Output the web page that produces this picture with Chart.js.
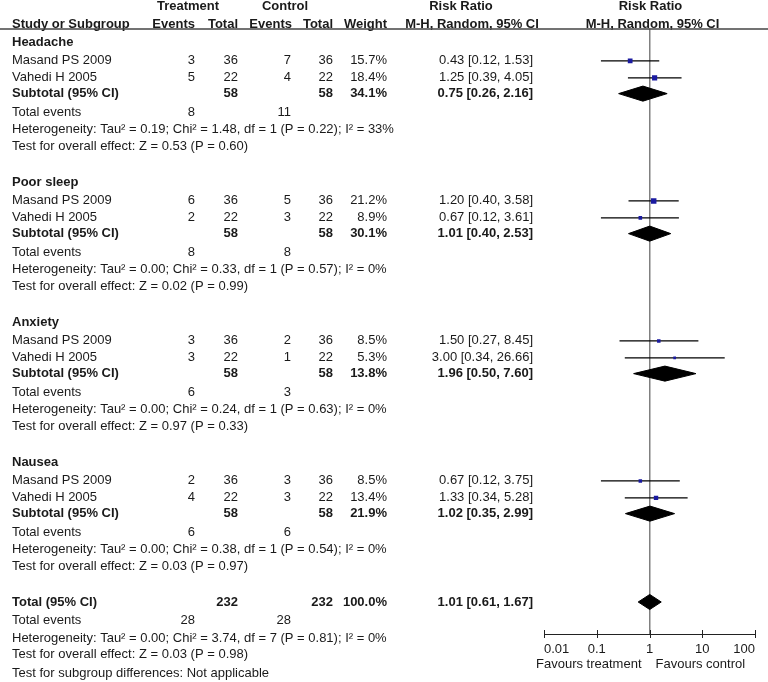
<!DOCTYPE html>
<html>
<head>
<meta charset="utf-8">
<script src="https://cdn.jsdelivr.net/npm/chart.js@4.4.0/dist/chart.umd.min.js"></script>
<style>
  html, body { margin: 0; padding: 0; background: #fff; }
  #wrap { width: 768px; height: 682px; }
</style>
</head>
<body>
<div id="wrap"><canvas id="forest" width="768" height="682"></canvas></div>
<script>
// per-study values, one inner array per subgroup
const subgroups = ["Headache", "Poor sleep", "Anxiety", "Nausea"];
const studies = ["Masand PS 2009", "Vahedi H 2005"];
const treatEvents = [[3, 5], [6, 2], [3, 3], [2, 4]];
const treatTotal = [[36, 22], [36, 22], [36, 22], [36, 22]];
const ctrlEvents = [[7, 4], [5, 3], [2, 1], [3, 3]];
const ctrlTotal = [[36, 22], [36, 22], [36, 22], [36, 22]];
const weights = [[15.7, 18.4], [21.2, 8.9], [8.5, 5.3], [8.5, 13.4]];
const ratios = [[0.43, 1.25], [1.20, 0.67], [1.50, 3.00], [0.67, 1.33]];
const lower = [[0.12, 0.39], [0.40, 0.12], [0.27, 0.34], [0.12, 0.34]];
const upper = [[1.53, 4.05], [3.58, 3.61], [8.45, 26.66], [3.75, 5.28]];

// subgroup summaries
const subRatio = [0.75, 1.01, 1.96, 1.02];
const subLower = [0.26, 0.40, 0.50, 0.35];
const subUpper = [2.16, 2.53, 7.60, 2.99];
const subWeight = [34.1, 30.1, 13.8, 21.9];
const subTreatTotal = [58, 58, 58, 58];
const subCtrlTotal = [58, 58, 58, 58];
const subTreatEvents = [8, 8, 6, 6];
const subCtrlEvents = [11, 8, 3, 6];
const subHetero = [
  "Tau\u00b2 = 0.19; Chi\u00b2 = 1.48, df = 1 (P = 0.22); I\u00b2 = 33%",
  "Tau\u00b2 = 0.00; Chi\u00b2 = 0.33, df = 1 (P = 0.57); I\u00b2 = 0%",
  "Tau\u00b2 = 0.00; Chi\u00b2 = 0.24, df = 1 (P = 0.63); I\u00b2 = 0%",
  "Tau\u00b2 = 0.00; Chi\u00b2 = 0.38, df = 1 (P = 0.54); I\u00b2 = 0%"
];
const subEffect = ["Z = 0.53 (P = 0.60)", "Z = 0.02 (P = 0.99)", "Z = 0.97 (P = 0.33)", "Z = 0.03 (P = 0.97)"];

// overall
const totalTreat = 232, totalCtrl = 232, totalWeight = 100.0;
const totalRatio = 1.01, totalLower = 0.61, totalUpper = 1.67;
const totalTreatEvents = 28, totalCtrlEvents = 28;
const totalHetero = "Tau\u00b2 = 0.00; Chi\u00b2 = 3.74, df = 7 (P = 0.81); I\u00b2 = 0%";
const totalEffect = "Z = 0.03 (P = 0.98)";
const subgroupDiff = "Not applicable";

const xTicks = [0.01, 0.1, 1, 10, 100];

// layout: row offsets inside a subgroup block
const ROWS_PER_GROUP = 8;
const R_STUDY = [1.08, 2.05];
const R_SUB = 2.95;
const R_EVENTS = 4.04;
const R_HET = 4.97;
const R_TEST = 5.98;
const TOTAL_ROW = 32;
const R_TOTAL_TAIL = [1.08, 2.1, 3.0, 4.1];
const DIAMOND_H = 0.43;
const FONT = "'Liberation Sans', Arial, sans-serif";
const TEXT = "#1a1a1a";

const fmtRR = (e, lo, hi) => `${e.toFixed(2)} [${lo.toFixed(2)}, ${hi.toFixed(2)}]`;

const squarePts = [];
const squareSize = [];
const ciSets = [];
const diamondSets = [];

function diamond(est, lo, hi, row) {
  return {
    type: "line",
    showLine: true,
    data: [
      { x: lo, y: row }, { x: est, y: row - DIAMOND_H },
      { x: hi, y: row }, { x: est, y: row + DIAMOND_H }, { x: lo, y: row }
    ],
    fill: "shape",
    backgroundColor: "#000",
    borderColor: "#000",
    borderWidth: 1,
    pointRadius: 0,
    tension: 0
  };
}

subgroups.forEach((name, g) => {
  const base = g * ROWS_PER_GROUP;
  studies.forEach((s, k) => {
    const row = base + R_STUDY[k];
    squarePts.push({ x: ratios[g][k], y: row });
    squareSize.push(1.2 * Math.sqrt(weights[g][k]) / Math.SQRT2);
    ciSets.push({
      type: "line",
      showLine: true,
      data: [{ x: lower[g][k], y: row }, { x: upper[g][k], y: row }],
      borderColor: "#000",
      borderWidth: 1.2,
      pointRadius: 0
    });
  });
  diamondSets.push(diamond(subRatio[g], subLower[g], subUpper[g], base + R_SUB));
});
diamondSets.push(diamond(totalRatio, totalLower, totalUpper, TOTAL_ROW));

const tablePlugin = {
  id: "forestTable",
  afterDraw(chart) {
    const { ctx, scales: { x, y } } = chart;
    const put = (s, px, row, align, bold) => {
      ctx.font = `${bold ? "bold " : ""}13px ${FONT}`;
      ctx.textAlign = align;
      ctx.fillText(s, px, y.getPixelForValue(row));
    };
    ctx.save();
    ctx.fillStyle = TEXT;
    ctx.textBaseline = "middle";

    // header
    const one = x.getPixelForValue(1);
    put("Treatment", 188, -2.02, "center", true);
    put("Control", 285, -2.02, "center", true);
    put("Risk Ratio", 461, -2.02, "center", true);
    put("Risk Ratio", one + 1, -2.02, "center", true);
    put("Study or Subgroup", 12, -1.0, "left", true);
    put("Events", 195, -1.0, "right", true);
    put("Total", 238, -1.0, "right", true);
    put("Events", 292, -1.0, "right", true);
    put("Total", 333, -1.0, "right", true);
    put("Weight", 387, -1.0, "right", true);
    put("M-H, Random, 95% CI", 472, -1.0, "center", true);
    put("M-H, Random, 95% CI", one + 3, -1.0, "center", true);

    subgroups.forEach((name, g) => {
      const base = g * ROWS_PER_GROUP;
      put(name, 12, base, "left", true);
      studies.forEach((s, k) => {
        const row = base + R_STUDY[k];
        put(s, 12, row, "left");
        put(String(treatEvents[g][k]), 195, row, "right");
        put(String(treatTotal[g][k]), 238, row, "right");
        put(String(ctrlEvents[g][k]), 291, row, "right");
        put(String(ctrlTotal[g][k]), 333, row, "right");
        put(weights[g][k].toFixed(1) + "%", 387, row, "right");
        put(fmtRR(ratios[g][k], lower[g][k], upper[g][k]), 533, row, "right");
      });
      const sr = base + R_SUB;
      put("Subtotal (95% CI)", 12, sr, "left", true);
      put(String(subTreatTotal[g]), 238, sr, "right", true);
      put(String(subCtrlTotal[g]), 333, sr, "right", true);
      put(subWeight[g].toFixed(1) + "%", 387, sr, "right", true);
      put(fmtRR(subRatio[g], subLower[g], subUpper[g]), 533, sr, "right", true);
      put("Total events", 12, base + R_EVENTS, "left");
      put(String(subTreatEvents[g]), 195, base + R_EVENTS, "right");
      put(String(subCtrlEvents[g]), 291, base + R_EVENTS, "right");
      put("Heterogeneity: " + subHetero[g], 12, base + R_HET, "left");
      put("Test for overall effect: " + subEffect[g], 12, base + R_TEST, "left");
    });

    const [t1, t2, t3, t4] = R_TOTAL_TAIL.map((d) => TOTAL_ROW + d);
    put("Total (95% CI)", 12, TOTAL_ROW, "left", true);
    put(String(totalTreat), 238, TOTAL_ROW, "right", true);
    put(String(totalCtrl), 333, TOTAL_ROW, "right", true);
    put(totalWeight.toFixed(1) + "%", 387, TOTAL_ROW, "right", true);
    put(fmtRR(totalRatio, totalLower, totalUpper), 533, TOTAL_ROW, "right", true);
    put("Total events", 12, t1, "left");
    put(String(totalTreatEvents), 195, t1, "right");
    put(String(totalCtrlEvents), 291, t1, "right");
    put("Heterogeneity: " + totalHetero, 12, t2, "left");
    put("Test for overall effect: " + totalEffect, 12, t3, "left");
    put("Test for subgroup differences: " + subgroupDiff, 12, t4, "left");

    // tick marks crossing the axis line
    const axisY = chart.chartArea.bottom;
    ctx.strokeStyle = "#222";
    ctx.lineWidth = 1;
    x.ticks.forEach((t) => {
      const px = Math.round(x.getPixelForValue(t.value)) + 0.5;
      ctx.beginPath();
      ctx.moveTo(px, axisY - 4);
      ctx.lineTo(px, axisY + 4);
      ctx.stroke();
    });

    // favours labels under the axis
    ctx.font = `13px ${FONT}`;
    ctx.textAlign = "right";
    ctx.fillText("Favours treatment", one - 8, 664);
    ctx.textAlign = "left";
    ctx.fillText("Favours control", one + 6, 664);

    // header rule
    ctx.strokeStyle = "#444";
    ctx.lineWidth = 1.5;
    ctx.beginPath();
    ctx.moveTo(0, chart.chartArea.top + 0.5);
    ctx.lineTo(768, chart.chartArea.top + 0.5);
    ctx.stroke();
    ctx.restore();
  }
};

new Chart(document.getElementById("forest"), {
  type: "scatter",
  data: {
    datasets: [
      {
        data: squarePts,
        pointStyle: "rect",
        pointRadius: (c) => squareSize[c.dataIndex],
        backgroundColor: "#1a1aa0",
        borderColor: "#1a1aa0",
        borderWidth: 0
      },
      ...diamondSets,
      ...ciSets
    ]
  },
  options: {
    responsive: false,
    animation: false,
    layout: { padding: { left: 544, right: 13, top: 28.5, bottom: 0 } },
    plugins: { legend: { display: false }, tooltip: { enabled: false } },
    scales: {
      x: {
        type: "logarithmic",
        min: 0.01,
        max: 100,
        afterBuildTicks: (s) => { s.ticks = xTicks.map((v) => ({ value: v })); },
        afterFit: (s) => { s.height = 48; },
        ticks: {
          callback: (v) => String(v),
          align: "inner",
          padding: 8,
          color: TEXT,
          font: { family: FONT, size: 13 }
        },
        grid: {
          color: (c) => (c.tick && c.tick.value === 1 ? "#808080" : "rgba(0,0,0,0)"),
          lineWidth: 1.5,
          drawTicks: false
        },
        border: { display: true, color: "#222", width: 1 }
      },
      y: {
        type: "linear",
        reverse: true,
        min: -0.771,
        max: 33.829,
        display: false
      }
    }
  },
  plugins: [tablePlugin]
});
</script>
</body>
</html>
